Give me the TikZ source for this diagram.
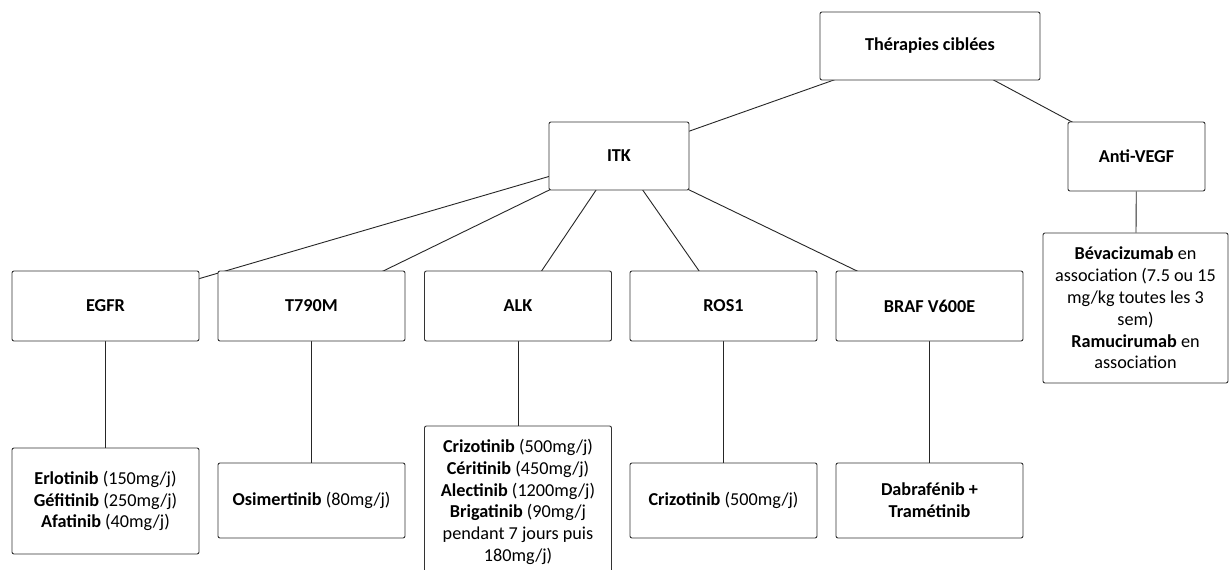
\documentclass[tikz,border=0pt]{standalone}
\usepackage{fontspec}
\setmainfont{Carlito}
\usetikzlibrary{backgrounds}
\begin{document}
\begin{tikzpicture}[x=1pt,y=-1pt,
  box/.style={draw=black!80, line width=0.9pt, fill=white, rounded corners=2pt,
    align=center, font=\fontsize{18.2}{21.8}\selectfont, inner sep=0pt},
  head/.style={box, font=\fontsize{18.2}{21.8}\selectfont\bfseries},
  mid/.style={head, minimum width=187pt, minimum height=70pt},
  drug/.style={box, minimum width=187pt},
  link/.style={draw=black!85, line width=0.9pt}]
\useasboundingbox (0,0) rectangle (1229,570);
% top levels
\node[head, minimum width=220pt, minimum height=68pt] (root) at (930,46) {Thérapies ciblées};
\node[head, minimum width=140pt, minimum height=68pt] (itk) at (619,156) {ITK};
\node[head, minimum width=137pt, minimum height=69pt] (anti) at (1136.5,156.5) {Anti-VEGF};
% middle row
\node[mid] (egfr) at (105.5,306) {EGFR};
\node[mid] (t790) at (311.5,306) {T790M};
\node[mid] (alk) at (518,306) {ALK};
\node[mid] (ros) at (723.5,306) {ROS1};
\node[mid] (braf) at (929.5,306) {BRAF V600E};
% bottom row
\node[drug, minimum height=106pt] (egfrd) at (105.5,501)
  {\textbf{Erlotinib} (150mg/j)\\\textbf{Géfitinib} (250mg/j)\\\textbf{Afatinib} (40mg/j)};
\node[drug, minimum height=75pt] (t790d) at (311.5,500.5)
  {\textbf{Osimertinib} (80mg/j)};
\node[drug, minimum height=152pt] (alkd) at (518,502)
  {\textbf{Crizotinib} (500mg/j)\\\textbf{Céritinib} (450mg/j)\\\textbf{Alectinib} (1200mg/j)\\\textbf{Brigatinib} (90mg/j\\pendant 7 jours puis\\180mg/j)};
\node[drug, minimum height=75pt] (rosd) at (723.5,500.5)
  {\textbf{Crizotinib} (500mg/j)};
\node[drug, minimum height=75pt] (brafd) at (929.5,500.5)
  {\textbf{Dabrafénib +}\\\textbf{Tramétinib}};
\node[box, minimum width=185pt, minimum height=150pt] (beva) at (1135.5,308)
  {\textbf{Bévacizumab} en\\association (7.5 ou 15\\mg/kg toutes les 3\\sem)\\\textbf{Ramucirumab} en\\association};
% connectors
\begin{pgfonlayer}{background}
\fill[white] (0,0) rectangle (1229,570);
\draw[link] (root.center) -- (itk.center);
\draw[link] (root.center) -- (anti.center);
\foreach \c in {egfr,t790,alk,ros,braf}{
  \draw[link] (itk.center) -- (\c.center);
}
\draw[link] (egfr) -- (egfrd);
\draw[link] (t790) -- (t790d);
\draw[link] (alk) -- (alkd);
\draw[link] (ros) -- (rosd);
\draw[link] (braf) -- (brafd);
\draw[link] (anti) -- (beva);
\end{pgfonlayer}
\end{tikzpicture}
\end{document}
